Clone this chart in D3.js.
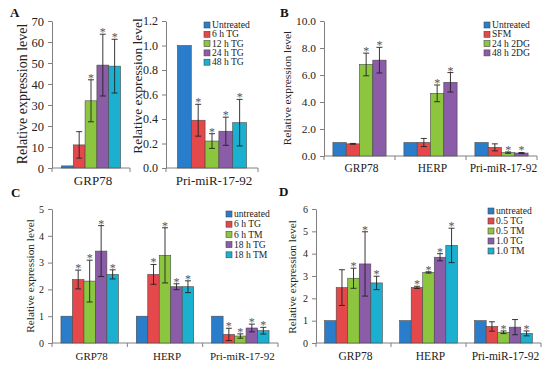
<!DOCTYPE html>
<html>
<head>
<meta charset="utf-8">
<script src="https://cdn.jsdelivr.net/npm/d3@7"></script>
<style>
  body { margin: 0; background: #fff; }
  svg, svg text { display: block; font-family: "Liberation Serif", "Times New Roman", serif; }
</style>
</head>
<body>
<svg id="chart" width="550" height="368"></svg>
<script>
// ---- values ----
const colors = ["#2a7dcb", "#e4484b", "#8cc63f", "#8b5ca7", "#1bb0cf"];

// panel A (thapsigargin time course)
const seriesA = ["Untreated", "6 h TG", "12 h TG", "24 h TG", "48 h TG"];
const grp78A = [1, 11, 32, 49, 48.5];
const grp78ErrA = [0, 6.3, 10, 14.7, 12.8];
const grp78StarA = [0, 0, 1, 1, 1];
const priA = [1.0, 0.39, 0.22, 0.30, 0.37];
const priErrA = [0, 0.13, 0.06, 0.115, 0.19];
const priStarA = [0, 1, 1, 1, 1];
const ticksA1 = [0, 10, 20, 30, 40, 50, 60, 70];
const ticksA2 = [0, 0.2, 0.4, 0.6, 0.8, 1.0, 1.2];

const genes = ["GRP78", "HERP", "Pri-miR-17-92"];

// panel B (serum-free / 2DG)
const seriesB = ["Untreated", "SFM", "24 h 2DG", "48 h 2DG"];
const grp78B = [1, 0.9, 6.78, 7.1];
const herpB = [1, 1.0, 4.64, 5.46];
const priB = [1, 0.64, 0.25, 0.22];
const grp78ErrB = [0, 0.03, 0.84, 0.95];
const herpErrB = [0, 0.3, 0.62, 0.72];
const priErrB = [0, 0.26, 0.05, 0.04];
const grp78StarB = [0, 0, 1, 1];
const herpStarB = [0, 0, 1, 1];
const priStarB = [0, 0, 1, 1];
const ticksB = [0, 2, 4, 6, 8, 10];

// panel C (TG / TM time)
const seriesC = ["untreated", "6 h TG", "6 h TM", "18 h TG", "18 h TM"];
const grp78C = [1, 2.37, 2.31, 3.43, 2.56];
const herpC = [1, 2.56, 3.27, 2.1, 2.1];
const priC = [1, 0.32, 0.26, 0.56, 0.46];
const grp78ErrC = [0, 0.35, 0.78, 0.95, 0.17];
const herpErrC = [0, 0.37, 1.03, 0.11, 0.22];
const priErrC = [0, 0.23, 0.08, 0.145, 0.125];
const grp78StarC = [0, 1, 1, 1, 1];
const herpStarC = [0, 1, 1, 1, 1];
const priStarC = [0, 1, 1, 1, 1];
const ticksC = [0, 1, 2, 3, 4, 5];

// panel D (TG / TM dose)
const seriesD = ["untreated", "0.5 TG", "0.5 TM", "1.0 TG", "1.0 TM"];
const grp78D = [1, 2.48, 2.9, 3.54, 2.69];
const herpD = [1, 2.49, 3.16, 3.84, 4.37];
const priD = [1, 0.74, 0.48, 0.71, 0.43];
const grp78ErrD = [0, 0.8, 0.45, 1.44, 0.3];
const herpErrD = [0, 0.05, 0.03, 0.16, 0.77];
const priErrD = [0, 0.21, 0.06, 0.34, 0.11];
const grp78StarD = [0, 0, 1, 1, 1];
const herpStarD = [0, 1, 1, 1, 1];
const priStarD = [0, 0, 1, 0, 1];
const ticksD = [0, 1, 2, 3, 4, 5, 6];

const svg = d3.select("#chart");

const panels = [
  { letter: "A", lx: 10, ly: 17,
    cats: ["GRP78"], series: seriesA, vals: [grp78A], errs: [grp78ErrA], stars: [grp78StarA],
    left: 52, right: 130, top: 21, bottom: 168, yMax: 70, ticks: ticksA1, fmt: d3.format("d"),
    pad: 0.8, tickFont: 12.5, catFont: 13, catY: 185, ylab: [22, 94], ylabFont: 14,
    legend: null },
  { letter: null,
    cats: ["Pri-miR-17-92"], series: seriesA, vals: [priA], errs: [priErrA], stars: [priStarA],
    left: 166, right: 258, top: 21, bottom: 168, yMax: 1.2, ticks: ticksA2, fmt: d3.format(".1f"),
    pad: 0.83, tickFont: 12, catFont: 13, catY: 185, ylab: [137, 86], ylabFont: 13.5,
    legend: { x: 204, y: 25, dy: 9.3 } },
  { letter: "B", lx: 280, ly: 17,
    cats: genes, series: seriesB, vals: [grp78B, herpB, priB], errs: [grp78ErrB, herpErrB, priErrB],
    stars: [grp78StarB, herpStarB, priStarB],
    left: 324, right: 537, top: 21, bottom: 156, yMax: 10, ticks: ticksB, fmt: d3.format(".1f"),
    pad: 0.67, tickFont: 11.4, catFont: 11.5, catY: 172, ylab: [287, 88], ylabFont: 11.4,
    legend: { x: 484, y: 25, dy: 9.3 } },
  { letter: "C", lx: 11, ly: 197,
    cats: genes, series: seriesC, vals: [grp78C, herpC, priC], errs: [grp78ErrC, herpErrC, priErrC],
    stars: [grp78StarC, herpStarC, priStarC],
    left: 52, right: 278, top: 209, bottom: 343, yMax: 5, ticks: ticksC, fmt: d3.format("d"),
    pad: 0.78, tickFont: 10, catFont: 11, catY: 360, ylab: [30, 276], ylabFont: 11.3,
    legend: { x: 226, y: 214, dy: 10.2 } },
  { letter: "D", lx: 279, ly: 196,
    cats: genes, series: seriesD, vals: [grp78D, herpD, priD], errs: [grp78ErrD, herpErrD, priErrD],
    stars: [grp78StarD, herpStarD, priStarD],
    left: 316, right: 541, top: 209, bottom: 343, yMax: 6, ticks: ticksD, fmt: d3.format("d"),
    pad: 0.75, tickFont: 10, catFont: 11.5, catY: 360, ylab: [292, 277], ylabFont: 11.3,
    legend: { x: 488, y: 211, dy: 10 } }
];

function drawPanel(p) {
  const g = svg.append("g");
  const y = d3.scaleLinear().domain([0, p.yMax]).range([p.bottom, p.top]);
  const x0 = d3.scaleBand().domain(p.cats).range([p.left, p.right]);
  const x1 = d3.scaleBand().domain(p.series).range([0, x0.bandwidth()]).paddingOuter(p.pad);

  // y axis
  const ya = g.append("g")
    .attr("transform", `translate(${p.left},0)`)
    .call(d3.axisLeft(y).tickValues(p.ticks).tickFormat(p.fmt).tickSize(4).tickSizeOuter(0).tickPadding(4));
  ya.attr("font-family", null).attr("font-size", p.tickFont);
  ya.select(".domain").attr("stroke", "#808080");
  ya.selectAll(".tick line").attr("stroke", "#808080");
  ya.selectAll(".tick text").attr("fill", "#222");

  // x axis: baseline, ticks between groups, category names
  g.append("line")
    .attr("x1", p.left).attr("x2", p.right)
    .attr("y1", y(0)).attr("y2", y(0))
    .attr("stroke", "#808080");
  g.selectAll(".xtick")
    .data(p.cats.map(c => x0(c)).concat([p.right]))
    .enter().append("line")
    .attr("x1", d => d).attr("x2", d => d)
    .attr("y1", y(0)).attr("y2", y(0) + 4)
    .attr("stroke", "#808080");
  g.selectAll(".cat")
    .data(p.cats)
    .enter().append("text")
    .attr("x", c => x0(c) + x0.bandwidth() / 2 + 2)
    .attr("y", p.catY)
    .attr("text-anchor", "middle")
    .attr("font-size", p.catFont)
    .attr("fill", "#222")
    .text(c => c);

  // bars
  const rows = [];
  p.cats.forEach((c, ci) => p.series.forEach((s, si) => {
    rows.push({ c, s, si, v: p.vals[ci][si], e: p.errs[ci][si], star: p.stars[ci][si] });
  }));
  const bx = d => x0(d.c) + x1(d.s);
  g.selectAll(".bar")
    .data(rows)
    .enter().append("rect")
    .attr("x", bx)
    .attr("width", x1.bandwidth())
    .attr("y", d => y(d.v))
    .attr("height", d => y(0) - y(d.v))
    .attr("fill", d => colors[d.si])
    .attr("stroke", "#4a4a4a")
    .attr("stroke-width", 0.6);

  // error bars
  const withErr = rows.filter(d => d.e > 0);
  const cx = d => bx(d) + x1.bandwidth() / 2;
  g.selectAll(".err")
    .data(withErr)
    .enter().append("line")
    .attr("x1", cx).attr("x2", cx)
    .attr("y1", d => y(d.v - d.e)).attr("y2", d => y(d.v + d.e))
    .attr("stroke", "#222").attr("stroke-width", 0.9);
  ["lo", "hi"].forEach(k => {
    g.selectAll(".cap" + k)
      .data(withErr)
      .enter().append("line")
      .attr("x1", d => cx(d) - 3).attr("x2", d => cx(d) + 3)
      .attr("y1", d => y(k === "lo" ? d.v - d.e : d.v + d.e))
      .attr("y2", d => y(k === "lo" ? d.v - d.e : d.v + d.e))
      .attr("stroke", "#222").attr("stroke-width", 0.9);
  });

  // significance stars
  g.selectAll(".star")
    .data(rows.filter(d => d.star))
    .enter().append("text")
    .attr("x", cx)
    .attr("y", d => y(d.v + d.e) + 2)
    .attr("text-anchor", "middle")
    .attr("font-size", 12)
    .attr("fill", "#555")
    .text("*");

  // y label
  g.append("text")
    .attr("transform", `translate(${p.ylab[0]},${p.ylab[1]}) rotate(-90)`)
    .attr("text-anchor", "middle")
    .attr("dy", "0.35em")
    .attr("font-size", p.ylabFont)
    .attr("fill", "#222")
    .text("Relative expression level");

  // legend
  if (p.legend) {
    const lg = g.selectAll(".leg")
      .data(p.series)
      .enter().append("g")
      .attr("transform", (s, i) => `translate(${p.legend.x},${p.legend.y + i * p.legend.dy})`);
    lg.append("rect")
      .attr("x", 0).attr("y", -3).attr("width", 6).attr("height", 6)
      .attr("fill", (s, i) => colors[i])
      .attr("stroke", "#4a4a4a").attr("stroke-width", 0.6);
    lg.append("text")
      .attr("x", 8).attr("dy", "0.33em")
      .attr("font-size", 9.6)
      .attr("fill", "#222")
      .text(s => s);
  }

  if (p.letter) {
    svg.append("text")
      .attr("x", p.lx).attr("y", p.ly)
      .attr("font-size", 13).attr("font-weight", "bold")
      .attr("fill", "#111")
      .text(p.letter);
  }
}

panels.forEach(drawPanel);
</script>
</body>
</html>
